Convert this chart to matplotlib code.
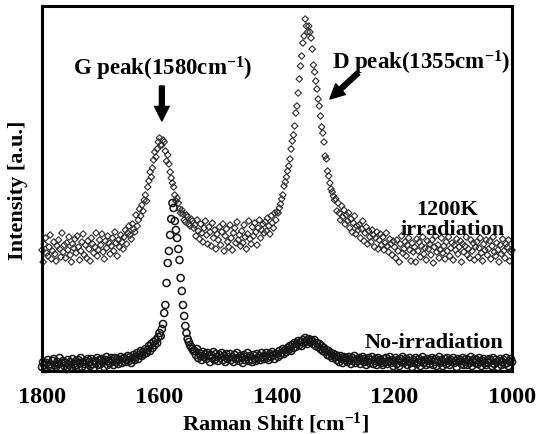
import matplotlib
matplotlib.use('Agg')
import matplotlib.pyplot as plt
import numpy as np

# ---------------- data ----------------
raman_shift = np.arange(1800, 998, -2)  # cm^-1 sampling grid, 1800 -> 1000

irradiated_1200K = [
    121, 109, 127, 133, 118, 115, 124, 136, 112, 120,
    129, 117, 110, 125, 131, 122, 114, 138, 119, 126,
    113, 128, 121, 134, 116, 109, 127, 123, 132, 118,
    135, 124, 111, 120, 129, 137, 116, 126, 113, 130,
    122, 110, 133, 127, 118, 124, 138, 115, 121, 131,
    126, 137, 119, 112, 130, 123, 135, 128, 117, 125,
    133, 120, 139, 128, 115, 131, 124, 136, 129, 122,
    134, 141, 127, 138, 145, 136, 132, 147, 142, 139,
    156, 145, 151, 162, 155, 166, 160, 171, 176, 170,
    184, 190, 199, 194, 203, 211, 219, 214, 222, 229,
    233, 226, 226, 231, 229, 220, 210, 216, 207, 199,
    193, 188, 184, 176, 170, 173, 168, 162, 158, 161,
    157, 151, 149, 156, 154, 147, 145, 152, 150, 143,
    146, 135, 151, 140, 132, 147, 138, 129, 143, 150,
    136, 127, 144, 139, 125, 148, 133, 141, 122, 137,
    131, 144, 126, 139, 147, 120, 135, 142, 129, 124,
    146, 133, 121, 138, 143, 128, 149, 131, 136, 125,
    140, 128, 146, 134, 122, 137, 150, 132, 127, 144,
    135, 148, 139, 126, 143, 151, 133, 141, 147, 138,
    149, 140, 153, 145, 137, 155, 148, 143, 158, 151,
    159, 158, 163, 167, 172, 176, 185, 189, 194, 200,
    205, 212, 222, 230, 236, 245, 258, 265, 278, 292,
    305, 315, 328, 335, 352, 345, 339, 345, 339, 333,
    322, 306, 299, 290, 282, 272, 265, 255, 244, 238,
    229, 215, 212, 200, 195, 188, 182, 179, 175, 171,
    172, 160, 168, 158, 151, 165, 154, 161, 147, 156,
    150, 158, 143, 152, 139, 148, 155, 137, 145, 141,
    146, 133, 142, 150, 130, 138, 144, 127, 140, 134,
    129, 141, 136, 124, 133, 139, 122, 131, 137, 126,
    134, 121, 128, 138, 125, 119, 132, 127, 116, 130,
    124, 113, 131, 120, 109, 127, 135, 118, 122, 129,
    115, 126, 133, 121, 110, 128, 119, 124, 109, 132,
    120, 129, 114, 125, 134, 117, 123, 111, 130, 122,
    127, 116, 131, 108, 124, 135, 119, 126, 113, 121,
    133, 118, 125, 112, 129, 120, 134, 115, 123, 128,
    111, 126, 121, 132, 117, 124, 130, 109, 127, 119,
    125, 134, 116, 122, 113, 131, 120, 128, 111, 124,
    129, 114, 123, 133, 118, 110, 127, 121, 131, 116,
    122, 130, 112, 125, 134, 119, 115, 128, 121, 109,
    126, 117, 132, 120, 113, 127, 124, 131, 110, 119,
    121,
]

no_irradiation = [
    4, 9, 6, 2, 8, 11, 5, 7, 3, 10,
    12, 6, 4, 9, 7, 13, 3, 8, 10, 5,
    8, 2, 11, 6, 9, 4, 12, 7, 5, 10,
    6, 11, 8, 13, 4, 9, 7, 3, 10, 12,
    9, 5, 12, 7, 3, 10, 8, 13, 6, 11,
    7, 12, 9, 4, 11, 14, 6, 10, 8, 13,
    10, 6, 13, 9, 12, 7, 11, 14, 8, 12,
    13, 9, 11, 15, 10, 14, 8, 12, 16, 11,
    14, 18, 12, 16, 20, 15, 19, 17, 22, 18,
    21, 25, 20, 27, 23, 29, 26, 31, 28, 34,
    38, 35, 42, 47, 58, 66, 88, 108, 120, 136,
    152, 168, 163, 150, 141, 133, 122, 111, 93, 80,
    66, 55, 45, 38, 32, 29, 26, 24, 22, 20,
    20, 16, 22, 13, 18, 15, 11, 19, 14, 17,
    12, 18, 15, 9, 16, 13, 19, 11, 17, 14,
    10, 16, 13, 18, 11, 15, 9, 17, 12, 14,
    17, 11, 14, 9, 16, 12, 18, 13, 10, 15,
    13, 8, 16, 11, 14, 18, 10, 15, 12, 9,
    16, 12, 10, 17, 13, 15, 11, 18, 14, 12,
    15, 18, 13, 11, 17, 14, 19, 16, 12, 17,
    17, 14, 20, 16, 18, 22, 17, 21, 19, 23,
    21, 25, 20, 26, 23, 28, 24, 27, 30, 26,
    29, 25, 31, 28, 33, 30, 27, 32, 29, 31,
    30, 27, 31, 25, 28, 24, 27, 22, 25, 20,
    23, 19, 21, 16, 20, 15, 18, 13, 17, 14,
    16, 11, 14, 9, 15, 12, 8, 14, 11, 13,
    9, 14, 11, 7, 13, 10, 15, 8, 12, 10,
    13, 7, 11, 14, 9, 12, 6, 10, 13, 8,
    11, 14, 7, 10, 12, 6, 13, 9, 11, 8,
    6, 12, 9, 13, 7, 10, 14, 8, 11, 5,
    10, 13, 7, 11, 5, 12, 9, 14, 8, 10,
    12, 6, 10, 13, 8, 4, 11, 9, 13, 7,
    9, 12, 5, 10, 14, 8, 11, 6, 12, 10,
    7, 11, 13, 6, 9, 12, 5, 10, 14, 8,
    11, 5, 9, 12, 7, 13, 10, 6, 11, 9,
    13, 8, 10, 4, 12, 9, 11, 7, 13, 6,
    9, 12, 6, 11, 8, 14, 5, 10, 12, 8,
    11, 7, 13, 9, 5, 10, 12, 8, 6, 11,
    8, 12, 10, 5, 13, 7, 11, 9, 4, 10,
    12, 6, 9, 11, 7, 13, 8, 5, 10, 12,
    9,
]

x_ticks = [1800, 1600, 1400, 1200, 1000]
x_tick_labels = ["1800", "1600", "1400", "1200", "1000"]

# ---------------- style ----------------
plt.rcParams['font.family'] = ['Liberation Serif', 'DejaVu Serif']
plt.rcParams['font.weight'] = 'bold'
plt.rcParams['mathtext.fontset'] = 'custom'
plt.rcParams['mathtext.rm'] = 'Liberation Serif:bold'
plt.rcParams['mathtext.bf'] = 'Liberation Serif:bold'
plt.rcParams['mathtext.it'] = 'Liberation Serif:bold'
plt.rcParams['mathtext.default'] = 'bf'

W, H = 545, 435
fig = plt.figure(figsize=(W / 100, H / 100), dpi=100)
ax = fig.add_axes([42 / W, 1 - 372 / H, 470 / W, 365 / H])

ax.scatter(raman_shift, irradiated_1200K, marker='D', s=11,
           facecolors='none', edgecolors='#2e2e2e', linewidths=0.8,
           clip_on=False, zorder=3)
ax.scatter(raman_shift, no_irradiation, marker='o', s=26,
           facecolors='none', edgecolors='#151515', linewidths=1.1,
           clip_on=False, zorder=3)

ax.set_xlim(1800, 1000)
ax.set_ylim(0, 365)
ax.set_yticks([])
ax.set_xticks(x_ticks)
ax.set_xticklabels(x_tick_labels, fontsize=17.5, fontweight='bold')
ax.tick_params(axis='x', length=0, pad=11)
for sp in ax.spines.values():
    sp.set_linewidth(2.2)
    sp.set_color('black')
    sp.set_zorder(5)

fig.text(276 / W, 1 - 423 / H, 'Raman Shift [cm$^{-1}$]', ha='center',
         va='center', fontsize=16, fontweight='bold')
fig.text(18 / W, 1 - 190 / H, 'Intensity [a.u.]', rotation=90, ha='center',
         va='center', fontsize=16, fontweight='bold')

ax.text(1594, 303, 'G peak(1580cm$^{-1}$)', ha='center', va='center',
        fontsize=16.5, fontweight='bold')
ax.text(1155, 309, 'D peak(1355cm$^{-1}$)', ha='center', va='center',
        fontsize=16.5, fontweight='bold')
ax.text(1110, 162, '1200K', ha='center', va='center', fontsize=16,
        fontweight='bold')
ax.text(1102, 142, 'irradiation', ha='center', va='center', fontsize=16,
        fontweight='bold')
ax.text(1133, 29, 'No-irradiation', ha='center', va='center', fontsize=16,
        fontweight='bold')

arrow_style = 'simple,head_width=0.75,head_length=0.75,tail_width=0.25'
ax.annotate('', xy=(1596, 250), xytext=(1596, 285),
            arrowprops=dict(arrowstyle=arrow_style, color='black',
                            mutation_scale=14, shrinkA=0, shrinkB=0))
ax.annotate('', xy=(1310, 272), xytext=(1262, 298),
            arrowprops=dict(arrowstyle=arrow_style, color='black',
                            mutation_scale=14, shrinkA=0, shrinkB=0))

fig.savefig('out.png', dpi=100)
